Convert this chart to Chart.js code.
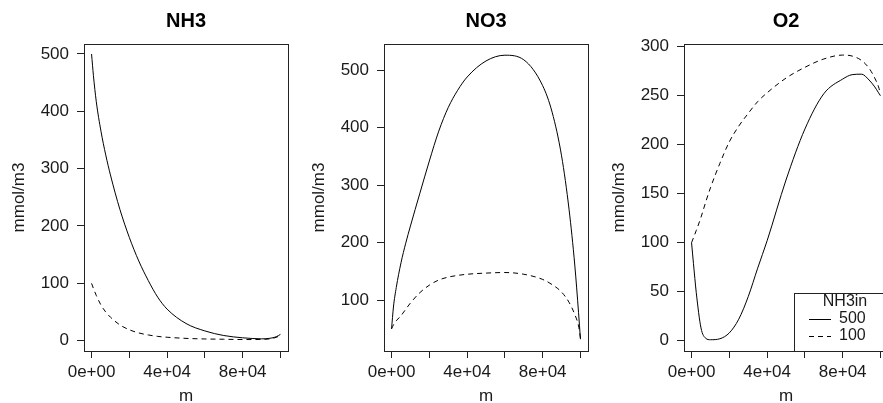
<!DOCTYPE html>
<html>
<head>
<meta charset="utf-8">
<script src="https://cdn.jsdelivr.net/npm/chart.js@4.4.1/dist/chart.umd.min.js"></script>
<style>
  html, body { margin: 0; padding: 0; background: #fff; overflow: hidden; }
  #wrap { position: relative; width: 883px; height: 403px; overflow: hidden; }
  canvas { position: absolute; top: 0; }
</style>
</head>
<body>
<div id="wrap">
  <canvas id="nh3" width="294" height="403" style="left:0px"></canvas>
  <canvas id="no3" width="294" height="403" style="left:300px"></canvas>
  <canvas id="o2" width="294" height="403" style="left:600px"></canvas>
</div>
<script>
// distance downstream (m)
const distance = [0, 1000, 2500, 5000, 7500, 10000, 15000, 20000, 25000, 30000, 35000,
  40000, 50000, 60000, 70000, 80000, 85000, 90000, 94000, 97000, 99000, 100000];

// runs by upstream NH3 concentration
const runLabels = ["500", "100"];

// mmol/m3
const nh3In500 = [500, 462, 417, 365, 324, 289, 229, 180, 139, 105, 76, 55, 30, 17, 9, 5, 3.8, 3.2, 4, 6, 9, 11];
const nh3In100 = [100, 91, 79, 62, 50, 41, 27.5, 19, 13.5, 10, 7.5, 6, 4, 3, 2.5, 2, 2, 2.2, 3, 5, 7.5, 9];
const no3In500 = [50, 88, 122, 165, 199, 229, 286, 342, 394, 435, 465, 488, 516, 526, 518, 473, 427, 351, 257, 161, 78, 32];
const no3In100 = [50, 57, 64, 73, 84, 95, 113, 126, 135, 140, 143, 145, 147, 148, 145, 136, 127, 114, 96, 75, 55, 34];
const o2In500 = [100, 79, 49, 13, 2.5, 1, 2, 8, 22, 45, 74, 102, 164, 216, 252, 267, 271.5, 272, 266, 259, 253, 250];
const o2In100 = [100, 105, 112.5, 126, 141.5, 156, 181, 203, 219, 232, 244, 253, 268, 279, 287.5, 291.5, 290.5, 286, 278, 268, 259, 252];

const xTickValues = [0, 20000, 40000, 60000, 80000, 100000];
const xTickLabels = ["0e+00", "", "4e+04", "", "8e+04", ""];
const nh3Ticks = [0, 100, 200, 300, 400, 500];
const no3Ticks = [100, 200, 300, 400, 500];
const o2Ticks = [0, 50, 100, 150, 200, 250, 300];

const FAMILY = "'Liberation Sans', Arial, Helvetica, sans-serif";
const INK = "#1a1a1a";

// heading over the plot region plus the closed box around it
function frame(heading) {
  return {
    id: "frame",
    afterDraw(chart) {
      const { ctx, chartArea: a } = chart;
      ctx.save();
      ctx.strokeStyle = "#222";
      ctx.lineWidth = 1;
      ctx.strokeRect(Math.round(a.left) + 0.5, Math.round(a.top) + 0.5,
        Math.round(a.right - a.left), Math.round(a.bottom - a.top));
      ctx.fillStyle = "#000";
      ctx.font = "bold 20px " + FAMILY;
      ctx.textAlign = "center";
      ctx.textBaseline = "middle";
      ctx.fillText(heading, (a.left + a.right) / 2, 21);
      ctx.restore();
    }
  };
}

// boxed key with a title, bottom right of the plot
const runKey = {
  id: "runKey",
  afterDraw(chart) {
    const { ctx, chartArea: a } = chart;
    const x0 = a.left + 110, y0 = a.top + 249;
    ctx.save();
    ctx.fillStyle = "#fff";
    ctx.fillRect(x0, y0, 200, a.bottom - y0);
    ctx.strokeStyle = "#222";
    ctx.lineWidth = 1;
    ctx.strokeRect(Math.round(x0) + 0.5, Math.round(y0) + 0.5, 200, Math.round(a.bottom - y0));
    ctx.fillStyle = INK;
    ctx.font = "16px " + FAMILY;
    ctx.textBaseline = "middle";
    ctx.textAlign = "center";
    ctx.fillText("NH3in", x0 + 51, y0 + 9);
    ctx.textAlign = "left";
    chart.data.datasets.forEach((ds, i) => {
      const y = y0 + 26 + i * 17;
      ctx.strokeStyle = ds.borderColor;
      ctx.lineWidth = ds.borderWidth;
      ctx.setLineDash(ds.borderDash);
      ctx.beginPath();
      ctx.moveTo(x0 + 15, y + 0.5);
      ctx.lineTo(x0 + 37, y + 0.5);
      ctx.stroke();
      ctx.setLineDash([]);
      ctx.fillText(ds.label, x0 + 45, y);
    });
    ctx.restore();
  }
};

function panel(id, heading, series, yTicks, yMin, yMax, extra) {
  const font = { family: FAMILY, size: 17 };
  const titleFont = { family: FAMILY, size: 17, lineHeight: 1 };
  new Chart(document.getElementById(id), {
    type: "line",
    data: {
      datasets: series.map((vals, i) => ({
        label: runLabels[i],
        data: distance.map((d, j) => ({ x: d, y: vals[j] })),
        borderColor: "#000",
        borderWidth: 1,
        borderDash: i ? [5, 4] : [],
        pointRadius: 0,
        cubicInterpolationMode: "monotone",
        fill: false
      }))
    },
    options: {
      responsive: false,
      animation: false,
      devicePixelRatio: 1,
      events: [],
      layout: { padding: { left: 0, right: 6, top: 44, bottom: 0 }, autoPadding: false },
      plugins: { legend: { display: false }, tooltip: { enabled: false } },
      scales: {
        x: {
          type: "linear",
          min: -4000,
          max: 104000,
          afterBuildTicks: s => { s.ticks = xTickValues.map(v => ({ value: v })); },
          afterFit: s => { s.height = 52; },
          ticks: {
            autoSkip: false, maxRotation: 0, padding: 4, color: INK, font,
            callback: (v, i) => xTickLabels[i]
          },
          grid: { drawOnChartArea: false, drawTicks: true, tickLength: 7, color: "#222" },
          border: { display: false },
          title: { display: true, text: "m", color: INK, font: titleFont, padding: { top: 0, bottom: -2 } }
        },
        y: {
          min: yMin,
          max: yMax,
          afterBuildTicks: s => { s.ticks = yTicks.map(v => ({ value: v })); },
          afterFit: s => { s.width = 84; },
          ticks: { padding: 8, color: INK, font, callback: v => String(v) },
          grid: { drawOnChartArea: false, drawTicks: true, tickLength: 7, color: "#222" },
          border: { display: false },
          title: {
            display: true, text: "mmol/m3", color: INK, font: titleFont,
            padding: { top: 10.5, bottom: 0 }
          }
        }
      }
    },
    plugins: [frame(heading)].concat(extra || [])
  });
}

panel("nh3", "NH3", [nh3In500, nh3In100], nh3Ticks, -18, 517.4);
panel("no3", "NO3", [no3In500, no3In100], no3Ticks, 11.5, 545.5);
panel("o2", "O2", [o2In500, o2In100], o2Ticks, -10.5, 302.8, [runKey]);
</script>
</body>
</html>
